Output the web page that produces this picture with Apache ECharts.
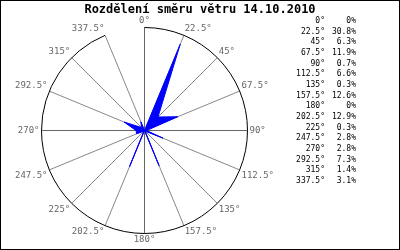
<!DOCTYPE html>
<html>
<head>
<meta charset="utf-8">
<script src="https://cdn.jsdelivr.net/npm/echarts@6/dist/echarts.min.js"></script>
<style>
html,body{margin:0;padding:0;background:#fff;}
#c{width:400px;height:250px;}
</style>
</head>
<body>
<div id="c"></div>
<script>
const titleText = 'Rozdělení směru větru 14.10.2010';
const directions = [0, 22.5, 45, 67.5, 90, 112.5, 135, 157.5, 180, 202.5, 225, 247.5, 270, 292.5, 315, 337.5];
const percents = [0, 30.8, 6.3, 11.9, 0.7, 6.6, 0.3, 12.6, 0, 12.9, 0.3, 2.8, 2.8, 7.3, 1.4, 3.1];
const directionLabels = directions.map(d => d + '°');

const chart = echarts.init(document.getElementById('c'), null, {renderer: 'canvas'});

const seriesData = directions.map((d, i) => [percents[i], d]);
seriesData.push([percents[0], directions[0]]);

const legendItems = [];
directions.forEach((d, i) => {
  const y = 21 + i * 10.67;
  legendItems.push({
    type: 'text', x: 325, y: y,
    style: {text: directionLabels[i], font: '8px "DejaVu Sans Mono"', fill: '#000', align: 'right', verticalAlign: 'middle'}
  });
  legendItems.push({
    type: 'text', x: 356, y: y,
    style: {text: percents[i] + '%', font: '8px "DejaVu Sans Mono"', fill: '#000', align: 'right', verticalAlign: 'middle'}
  });
});

const polarCommon = {center: [144.5, 130.5], radius: 103};
const hiddenRadius = idx => ({
  polarIndex: idx, type: 'value', min: 0, max: 34,
  axisLine: {show: false}, axisTick: {show: false}, axisLabel: {show: false},
  splitLine: {show: false}
});

chart.setOption({
  animation: false,
  backgroundColor: '#fff',
  title: {
    text: titleText, left: 'center', top: 4, padding: 0,
    textStyle: {fontFamily: 'DejaVu Sans Mono', fontWeight: 'bold', fontSize: 12, color: '#000'}
  },
  polar: [Object.assign({}, polarCommon), Object.assign({}, polarCommon)],
  angleAxis: [{
    polarIndex: 0, type: 'category', data: directionLabels, boundaryGap: false,
    startAngle: 90, clockwise: true,
    axisLine: {show: true, lineStyle: {color: '#000', width: 1}},
    axisTick: {show: false},
    axisLabel: {
      show: true, interval: 0, margin: 2, color: '#666',
      fontFamily: 'DejaVu Sans Mono', fontSize: 9
    },
    splitLine: {show: false}
  }, {
    polarIndex: 1, type: 'value', min: 0, max: 360, interval: 22.5,
    startAngle: 90, clockwise: true,
    axisLine: {show: false}, axisTick: {show: false}, axisLabel: {show: false},
    splitLine: {show: true, lineStyle: {color: ['#666', '#888', '#888', '#888'], width: 1}}
  }],
  radiusAxis: [hiddenRadius(0), hiddenRadius(1)],
  series: [{
    type: 'line', coordinateSystem: 'polar', polarIndex: 1,
    data: seriesData, symbol: 'none', smooth: false,
    lineStyle: {color: '#0000ff', width: 1},
    areaStyle: {color: '#0000ff', opacity: 1},
    z: 5
  }],
  graphic: [
    {type: 'rect', shape: {x: 0, y: 0, width: 400, height: 250}, style: {fill: 'none', stroke: '#000', lineWidth: 2}, z: 100},
    ...legendItems
  ]
});
</script>
</body>
</html>
